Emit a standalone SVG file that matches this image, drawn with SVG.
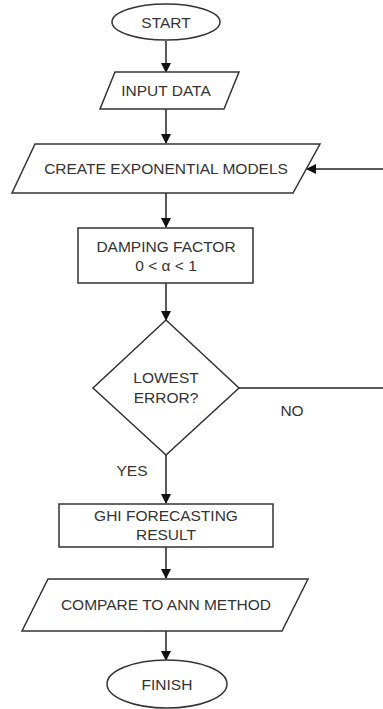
<svg xmlns="http://www.w3.org/2000/svg" width="383" height="709" viewBox="0 0 383 709">
<style>
.s{fill:#fff;stroke:#333;stroke-width:1.5}
.t{font-family:"Liberation Sans",Arial,sans-serif;font-size:15.5px;fill:#333;text-anchor:middle}
.c{stroke:#222;stroke-width:1.5;fill:none}
</style>
<defs>
<marker id="a" markerWidth="10" markerHeight="10" refX="9" refY="5" orient="auto" markerUnits="userSpaceOnUse">
<path d="M0,0 L10,5 L0,10 z" fill="#111"/>
</marker>
</defs>
<rect width="383" height="709" fill="#fff"/>
<g id="connectors">
<line class="c" x1="166" y1="41" x2="166" y2="72" marker-end="url(#a)"/>
<line class="c" x1="166" y1="109" x2="166" y2="143" marker-end="url(#a)"/>
<line class="c" x1="166" y1="193" x2="166" y2="227" marker-end="url(#a)"/>
<line class="c" x1="166" y1="283" x2="166" y2="320" marker-end="url(#a)"/>
<line class="c" x1="166" y1="455" x2="166" y2="503" marker-end="url(#a)"/>
<line class="c" x1="166" y1="547" x2="166" y2="578" marker-end="url(#a)"/>
<line class="c" x1="166" y1="631" x2="166" y2="660" marker-end="url(#a)"/>
<line class="c" x1="239" y1="388" x2="383" y2="388"/>
<line class="c" x1="383" y1="169" x2="307" y2="169" marker-end="url(#a)"/>
<text class="t" x="292" y="416">NO</text>
<text class="t" x="132" y="476">YES</text>
</g>
<g id="start">
<ellipse class="s" cx="166" cy="22" rx="54" ry="18"/>
<text class="t" x="166" y="28">START</text>
</g>
<g id="input">
<polygon class="s" points="115,72 239,72 224,109 100,109"/>
<text class="t" x="166" y="96">INPUT DATA</text>
</g>
<g id="create">
<polygon class="s" points="35,144 320,144 293,193 12,193"/>
<text class="t" x="166" y="174">CREATE EXPONENTIAL MODELS</text>
</g>
<g id="damping">
<rect class="s" x="78" y="228" width="175" height="55"/>
<text class="t" x="166" y="252">DAMPING FACTOR</text>
<text class="t" x="166" y="271">0 &lt; α &lt; 1</text>
</g>
<g id="decision">
<polygon class="s" points="166,320 239,388 166,455 93,388"/>
<text class="t" x="166" y="383">LOWEST</text>
<text class="t" x="166" y="403">ERROR?</text>
</g>
<g id="ghi">
<rect class="s" x="59" y="504" width="214" height="43"/>
<text class="t" x="166" y="521">GHI FORECASTING</text>
<text class="t" x="166" y="540">RESULT</text>
</g>
<g id="compare">
<polygon class="s" points="48,579 308,579 282,631 22,631"/>
<text class="t" x="166" y="610">COMPARE TO ANN METHOD</text>
</g>
<g id="finish">
<ellipse class="s" cx="167" cy="684" rx="60" ry="24"/>
<text class="t" x="167" y="690">FINISH</text>
</g>
</svg>
